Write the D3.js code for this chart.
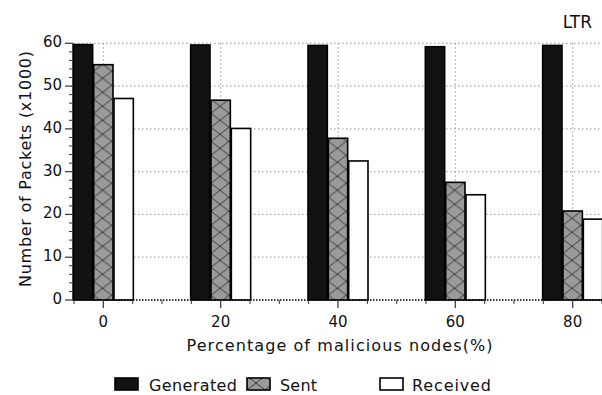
<!DOCTYPE html>
<html>
<head>
<meta charset="utf-8">
<script src="https://cdn.jsdelivr.net/npm/d3@7/dist/d3.min.js"></script>
<style>
  html, body { margin: 0; padding: 0; background: #fff; }
  svg { display: block; }
  text { font-family: "DejaVu Sans", sans-serif; fill: #111; }
</style>
</head>
<body>
<svg id="chart" width="602" height="395"></svg>
<script>
// ---- data ----
const categories = [0, 20, 40, 60, 80];
const seriesNames = ["Generated", "Sent", "Received"];
const generated = [59.7, 59.6, 59.5, 59.2, 59.5];
const sent      = [55.0, 46.7, 37.8, 27.5, 20.8];
const received  = [47.1, 40.1, 32.5, 24.6, 18.9];
const yTicks = [0, 10, 20, 30, 40, 50, 60];
const xTicks = [0, 20, 40, 60, 80];
const chartLabel = "LTR";
const xTitle = "Percentage of malicious nodes(%)";
const yTitle = "Number of Packets (x1000)";

// ---- layout ----
const W = 602, H = 395;
const plot = { left: 74, right: 602, top: 43.3, bottom: 300 };
const svg = d3.select("#chart");

svg.append("rect").attr("width", W).attr("height", H).attr("fill", "#fff");

const x = d3.scaleLinear().domain([-5, 85]).range([plot.left, plot.right]);
const y = d3.scaleLinear().domain([0, 60]).range([plot.bottom, plot.top]);
const inner = d3.scaleBand().domain(seriesNames).range([-30, 30]).paddingInner(0.05);

const table = categories.map((c, i) => ({
  cat: c,
  values: [
    { name: "Generated", v: generated[i] },
    { name: "Sent", v: sent[i] },
    { name: "Received", v: received[i] }
  ]
}));

const defs = svg.append("defs");
function hatchPattern(id, x0, y0) {
  const p = defs.append("pattern").attr("id", id)
    .attr("patternUnits", "userSpaceOnUse")
    .attr("x", x0).attr("y", y0)
    .attr("width", 18).attr("height", 14);
  p.append("rect").attr("width", 18).attr("height", 14).attr("fill", "#9a9a9a");
  p.append("path").attr("d", "M0,0L18,14M18,0L0,14")
    .attr("stroke", "#3a3a3a").attr("stroke-width", 1).attr("fill", "none");
}

// grid lines
const grid = svg.append("g");
grid.selectAll("line.h").data(yTicks.filter(t => t > 0)).join("line")
  .attr("x1", plot.left).attr("x2", plot.right)
  .attr("y1", d => y(d)).attr("y2", d => y(d))
  .attr("stroke", "#a8a8a8").attr("stroke-width", 1.2).attr("stroke-dasharray", "1.5,2.5");
grid.selectAll("line.v").data(xTicks).join("line")
  .attr("x1", d => x(d)).attr("x2", d => x(d))
  .attr("y1", plot.top).attr("y2", plot.bottom)
  .attr("stroke", "#a8a8a8").attr("stroke-width", 1.2).attr("stroke-dasharray", "1.5,2.5");

// bars
const fills = { Generated: "#121212", Received: "#ffffff" };
table.forEach((g, gi) => {
  g.values.forEach(d => {
    const bx = x(g.cat) + inner(d.name);
    let fill = fills[d.name];
    if (d.name === "Sent") {
      const id = "hatch" + gi;
      hatchPattern(id, bx, y(60));
      fill = `url(#${id})`;
    }
    svg.append("rect")
      .attr("x", bx).attr("y", y(d.v))
      .attr("width", inner.bandwidth())
      .attr("height", y(0) - y(d.v))
      .attr("fill", fill)
      .attr("stroke", "#000").attr("stroke-width", 1.6);
  });
});

// x axis (dotted baseline)
svg.append("line")
  .attr("x1", plot.left - 1).attr("x2", plot.right)
  .attr("y1", y(0)).attr("y2", y(0))
  .attr("stroke", "#000").attr("stroke-width", 1.6).attr("stroke-dasharray", "1.5,1.5");

// x ticks
const xMinor = d3.range(-5, 86, 5).filter(v => !xTicks.includes(v));
svg.selectAll("line.xminor").data(xMinor).join("line")
  .attr("x1", d => x(d)).attr("x2", d => x(d))
  .attr("y1", y(0)).attr("y2", y(0) + 4)
  .attr("stroke", "#333").attr("stroke-width", 1);
svg.selectAll("line.xmajor").data(xTicks).join("line")
  .attr("x1", d => x(d)).attr("x2", d => x(d))
  .attr("y1", y(0)).attr("y2", y(0) + 8)
  .attr("stroke", "#333").attr("stroke-width", 1.2);
svg.selectAll("text.xt").data(xTicks).join("text")
  .attr("x", d => x(d)).attr("y", 327)
  .attr("text-anchor", "middle").attr("font-size", 15)
  .text(d => d);

// y axis
svg.append("line")
  .attr("x1", plot.left - 1).attr("x2", plot.left - 1)
  .attr("y1", y(60)).attr("y2", y(0))
  .attr("stroke", "#000").attr("stroke-width", 1);
const yMinor = d3.range(0, 61, 2).filter(v => !yTicks.includes(v));
svg.selectAll("line.yminor").data(yMinor).join("line")
  .attr("x1", plot.left - 5).attr("x2", plot.left - 1)
  .attr("y1", d => y(d)).attr("y2", d => y(d))
  .attr("stroke", "#333").attr("stroke-width", 1);
svg.selectAll("line.ymajor").data(yTicks).join("line")
  .attr("x1", plot.left - 9).attr("x2", plot.left - 1)
  .attr("y1", d => y(d)).attr("y2", d => y(d))
  .attr("stroke", "#333").attr("stroke-width", 1.2);
svg.selectAll("text.yt").data(yTicks).join("text")
  .attr("x", 62).attr("y", d => y(d) + 4)
  .attr("text-anchor", "end").attr("font-size", 15)
  .text(d => d);

// titles
svg.append("text")
  .attr("x", 339.5).attr("y", 351)
  .attr("text-anchor", "middle").attr("font-size", 16)
  .attr("textLength", 306).attr("lengthAdjust", "spacing")
  .text(xTitle);
svg.append("text")
  .attr("transform", "translate(31,169) rotate(-90)")
  .attr("text-anchor", "middle").attr("font-size", 16)
  .attr("textLength", 236).attr("lengthAdjust", "spacing")
  .text(yTitle);
svg.append("text")
  .attr("x", 592).attr("y", 28)
  .attr("text-anchor", "end").attr("font-size", 17)
  .text(chartLabel);

// legend
hatchPattern("hatchLegend", 247, 376);
const legendPos = [
  { box: 115, text: 149, w: 88 },
  { box: 247, text: 280, w: 37 },
  { box: 380, text: 412, w: 79 }
];
seriesNames.forEach((name, i) => {
  const lp = legendPos[i];
  const fill = name === "Sent" ? "url(#hatchLegend)" : fills[name];
  svg.append("rect")
    .attr("x", lp.box).attr("y", 378).attr("width", 23).attr("height", 12)
    .attr("fill", fill).attr("stroke", "#000").attr("stroke-width", 1.6);
  svg.append("text")
    .attr("x", lp.text).attr("y", 391)
    .attr("font-size", 16)
    .attr("textLength", lp.w).attr("lengthAdjust", "spacing")
    .text(name);
});
</script>
</body>
</html>
